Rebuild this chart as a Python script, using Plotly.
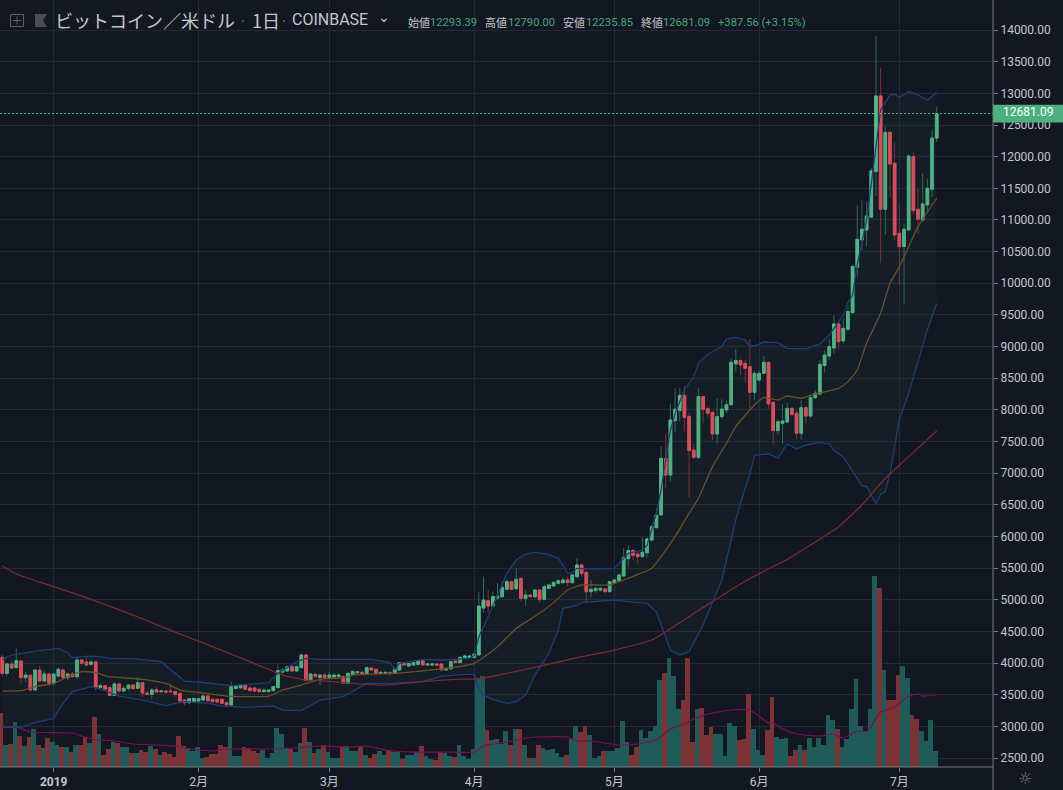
import pandas as pd
import plotly.graph_objects as go

# BTC/USD daily, Coinbase
first_day = "2018-12-21"
opens = [4090,3838,3985,3927,4032,3769,3806,3574,3890,3716,
    3827,3680,3795,3890,3769,3827,3785,4048,4017,3980,
    4017,3617,3643,3615,3490,3669,3559,3601,3653,3601,
    3690,3527,3506,3580,3548,3559,3559,3549,3521,3416,
    3374,3390,3400,3416,3479,3427,3427,3427,3374,3337,
    3600,3611,3648,3606,3606,3585,3548,3548,3564,3611,
    3858,3874,3943,3874,3927,4127,3722,3822,3774,3811,
    3774,3779,3785,3785,3679,3822,3845,3853,3822,3922,
    3901,3837,3837,3848,3837,3890,4001,3953,3969,3980,
    4037,3969,3969,3985,3985,3890,3906,4032,4006,4090,
    4090,4090,4127,4870,4985,4901,5029,5049,5165,5286,
    5175,5338,5022,5075,5049,5154,5007,5180,5217,5260,
    5270,5312,5270,5365,5549,5433,5128,5144,5154,5170,
    5128,5270,5302,5375,5649,5776,5723,5681,5744,5944,
    6139,6340,7234,6971,7830,7988,8230,7893,7366,7250,
    8209,8019,7961,7619,7893,8000,8082,8725,8778,8736,
    8683,8277,8472,8577,8751,8119,7672,7788,7809,8024,
    7946,7630,8035,7903,8193,8251,8700,8851,8978,9357,
    9089,9272,9536,10252,10684,10842,11043,11764,12959,11169,
    12385,11896,10790,10579,10842,12001,11169,11000,11237,11485,
    12293.39]
highs = [4130,4000,4040,4233,4040,3860,3830,3900,3960,3880,
    3850,3840,3925,3915,3850,3860,4100,4060,4117,4040,
    4040,3680,3650,3620,3700,3680,3640,3660,3660,3780,
    3700,3555,3605,3625,3580,3570,3670,3565,3530,3435,
    3450,3455,3450,3490,3490,3440,3435,3435,3390,3706,
    3655,3665,3665,3620,3615,3600,3600,3590,3635,3980,
    3925,3950,3955,3955,4153,4140,3845,3840,3830,3835,
    3860,3840,3835,3800,3850,3890,3880,3870,3940,3930,
    3910,3875,3865,3870,3915,4015,4015,4000,4030,4050,
    4045,3995,4000,3995,3995,3930,4025,4060,4110,4130,
    4125,4160,5128,5365,5155,5128,5259,5290,5310,5300,
    5496,5345,5154,5090,5170,5160,5230,5255,5290,5320,
    5340,5365,5400,5654,5570,5445,5312,5200,5200,5185,
    5300,5330,5420,5813,5865,5800,5760,5986,5986,6180,
    6444,7419,7630,8100,8340,8340,8380,7950,7470,8340,
    8220,8050,7980,8183,8167,8150,8814,8957,8800,8790,
    9115,8610,8620,8850,8760,8140,7850,8090,8110,8040,
    7990,8150,8060,8240,8310,8785,8940,9120,9499,9380,
    9440,9631,10300,11237,11316,11290,11817,13907,13407,12475,
    12400,12227,11237,10948,12040,12080,11485,11738,11648,12420,
    12790]
lows = [3790,3800,3915,3920,3680,3700,3560,3560,3700,3700,
    3640,3640,3770,3755,3730,3770,3745,3965,3950,3950,
    3570,3570,3570,3490,3490,3530,3540,3560,3590,3590,
    3470,3490,3440,3530,3530,3520,3540,3470,3380,3337,
    3360,3370,3385,3400,3395,3380,3375,3355,3330,3330,
    3585,3590,3575,3550,3545,3535,3540,3535,3555,3605,
    3840,3860,3860,3865,3915,3715,3720,3775,3650,3760,
    3760,3760,3770,3670,3670,3810,3830,3810,3815,3880,
    3830,3820,3820,3800,3830,3885,3960,3945,3960,3970,
    3960,3950,3955,3960,3890,3880,3900,4000,4000,4075,
    4075,4075,4120,4796,4790,4890,5000,5030,5150,5150,
    5150,4970,4907,5030,5020,4954,4995,5170,5205,5245,
    5255,5207,5250,5340,5365,4970,5038,5110,5130,5110,
    5115,5260,5290,5360,5512,5630,5576,5670,5670,5920,
    6125,6330,6760,6866,7650,7820,7660,6603,7220,7220,
    7788,7890,7524,7472,7860,7950,8060,8600,8550,8430,
    8025,8150,8440,8560,8020,7445,7600,7460,7790,7890,
    7535,7530,7780,7880,8170,8230,8590,8790,8890,8946,
    9050,9240,9520,10105,10526,10579,11030,11380,10316,10763,
    11343,10684,9973,9673,10842,11080,10779,10974,11116,11358,
    12235.85]
closes = [3838,3985,3922,4038,3769,3811,3574,3890,3716,3827,
    3680,3827,3901,3769,3827,3785,4048,3996,3969,4017,
    3617,3643,3590,3490,3669,3559,3601,3653,3595,3690,
    3527,3506,3574,3543,3558,3543,3549,3506,3400,3374,
    3437,3442,3437,3479,3405,3390,3385,3364,3337,3627,
    3637,3653,3585,3564,3558,3548,3574,3574,3627,3880,
    3890,3943,3874,3943,4127,3722,3827,3785,3811,3774,
    3811,3811,3811,3679,3837,3864,3864,3822,3927,3890,
    3837,3853,3853,3837,3906,4006,3969,3995,4006,4037,
    3969,3985,3985,3969,3890,3916,4022,4006,4090,4111,
    4111,4143,4901,4996,4901,5049,5059,5196,5286,5165,
    5323,5022,5075,5049,5154,5007,5207,5233,5275,5302,
    5312,5275,5391,5549,5417,5128,5165,5180,5180,5128,
    5286,5312,5391,5665,5776,5702,5681,5750,5960,6155,
    6339,7234,6971,7840,8009,8230,7882,7356,7250,8209,
    8009,7946,7619,7893,8014,8082,8751,8778,8709,8656,
    8277,8577,8577,8751,8093,7672,7814,7825,8024,7930,
    7630,8035,7903,8193,8262,8720,8867,9000,9357,9078,
    9288,9552,10263,10695,10853,11063,11775,12959,11169,12385,
    11885,10763,10579,10853,12011,11148,11011,11253,11500,12293,
    12681.09]
# volume, relative units
volumes = [54,22,23,45,31,21,30,38,22,19,
    29,25,22,20,20,15,22,22,30,24,
    50,33,12,18,25,24,20,20,14,14,
    17,15,21,18,12,15,13,10,31,21,
    19,16,20,9,10,13,13,22,20,40,
    11,11,20,19,16,14,17,9,14,39,
    33,19,18,15,24,39,25,14,18,22,
    15,9,9,20,21,16,16,21,12,9,
    13,16,12,17,15,15,8,12,12,15,
    21,11,8,7,15,14,11,10,22,11,
    8,18,89,91,37,27,28,23,36,22,
    38,38,22,9,9,22,19,17,18,14,
    10,12,28,41,35,41,32,9,11,16,
    16,16,19,46,25,12,20,37,29,36,
    41,87,94,109,91,58,67,109,25,58,
    59,32,40,33,33,11,44,41,27,28,
    73,38,17,12,37,70,30,28,29,11,
    17,22,17,29,20,29,22,52,47,38,
    20,28,58,88,41,36,58,191,179,97,
    67,67,92,101,89,52,48,36,26,47,
    16]

# indicator lines, sampled at the bends (day number from first_day)
bb_up_days = [0,2,7,11,12,14,15,17,20,23,28,34,37,39,42,49,57,59,63,65,68,72,75,79,83,84,85,90,94,97,100,101,102,104,106,108,110,112,114,117,119,120,121,122,123,126,131,132,134,137,138,140,141,143,144,146,148,149,151,154,155,157,159,160,161,163,166,168,172,175,177,180,181,182,183,185,187,188,190,191,192,194,196,198,200]
bb_up = [4059,4127,4190,4232,4232,4164,4085,4101,4111,4074,4069,4022,3837,3716,3701,3643,3690,3837,4022,4074,4059,4059,4048,4059,4006,3901,3995,4059,4048,4059,4074,4120,4417,4733,5075,5417,5628,5723,5749,5718,5654,5549,5417,5428,5496,5486,5496,5575,5733,5786,5860,6366,6734,7682,7945,8314,8525,8735,8878,9000,9120,9146,9104,9009,9009,9072,9062,8972,8962,9041,9183,9499,9700,9815,10300,11000,12200,12738,12975,12986,12938,13028,12975,12896,13012]
bb_lo_days = [0,4,7,11,13,15,17,19,21,25,30,35,39,44,47,52,58,60,64,68,73,75,78,83,90,94,99,101,102,103,105,108,110,112,114,117,119,120,123,124,131,134,138,140,143,145,147,150,154,157,158,160,161,164,166,168,170,172,175,177,178,180,182,184,185,187,188,189,190,191,192,194,198,200]
bb_lo = [2984,2984,3058,3127,3363,3548,3590,3627,3590,3479,3416,3327,3390,3364,3321,3300,3321,3258,3248,3416,3469,3548,3679,3680,3706,3790,3822,3822,3574,3495,3427,3364,3390,3495,3811,4154,4522,4865,4907,4954,4996,4970,4943,4806,4206,4127,4178,4600,5312,6260,6524,6987,7287,7303,7235,7461,7382,7445,7487,7461,7356,7261,7024,6798,6787,6513,6666,6708,6998,7393,7840,8262,9263,9680]
bb_mid_days = [0,4,7,11,14,17,20,23,30,35,38,42,48,57,60,64,68,74,75,84,95,101,106,110,113,116,119,121,124,130,133,139,141,144,147,149,152,155,157,161,163,166,168,171,174,179,181,183,185,188,190,192,194,196,200]
bb_mid = [3558,3564,3627,3679,3785,3864,3848,3785,3743,3679,3574,3537,3479,3479,3574,3653,3740,3774,3811,3837,3916,3996,4259,4548,4691,4838,5022,5154,5233,5233,5312,5497,5681,5997,6366,6603,7103,7472,7735,8077,8193,8156,8219,8183,8251,8340,8446,8630,9052,9526,9999,10263,10579,10895,11343]
sma200_days = [0,3,11,19,28,35,42,53,60,65,68,75,82,90,97,102,108,114,124,131,139,149,158,163,168,173,179,184,189,194,200]
sma200 = [5533,5407,5207,5007,4759,4548,4345,4022,3811,3732,3722,3679,3653,3706,3743,3750,3838,3932,4101,4206,4364,4830,5250,5450,5639,5866,6155,6497,6919,7261,7665]
vol_ma_days = [0,3,6,15,17,19,24,28,37,40,45,48,57,62,68,74,78,82,88,95,101,103,105,109,112,114,121,123,126,132,136,140,143,146,148,151,156,160,164,165,167,170,175,178,180,183,185,188,191,194,196,197,200]
vol_ma = [41,40,35,34,31,28,26,23,21,18,16,18,18,19,21,20,21,17,15,15,15,21,23,26,29,30,30,26,26,22,23,27,38,43,48,53,57,57,44,44,38,33,31,33,29,36,35,55,60,71,73,71,72]

month_ticks = ["2019-01-01", "2019-02-01", "2019-03-01", "2019-04-01", "2019-05-01", "2019-06-01", "2019-07-01"]
month_labels = ["<b>2019</b>", "2月", "3月", "4月", "5月", "6月", "7月"]
price_ticks = list(range(2500, 14001, 500))

BG = "#131722"
GRID = "#252935"
AXIS = "#787b86"
TXT = "#c3c6ce"
UP = "#53b987"
DOWN = "#eb4d5c"
W, H = 1063, 790
PW, PH = 993, 767

dates = pd.date_range(first_day, periods=len(closes), freq="D")


def px(x):
    return x / PW


def py(y):
    return 1 - y / PH


def at(days):
    return [dates[d] for d in days]


fig = go.Figure()

vol_colors = ["#1f5b59" if c >= o else "#7c3335" for o, c in zip(opens, closes)]
# bars sit a little left of their candle in the original
fig.add_trace(go.Bar(x=dates, y=volumes, yaxis="y2", marker=dict(color=vol_colors, line_width=0),
                     width=86400000, offset=-67392000, hoverinfo="skip"))
fig.add_trace(go.Scatter(x=at(vol_ma_days), y=vol_ma, yaxis="y2", mode="lines",
                         line=dict(color="#7b1055", width=1.2, shape="spline", smoothing=0.5), hoverinfo="skip"))

fig.add_trace(go.Scatter(x=at(bb_up_days), y=bb_up, mode="lines",
                         line=dict(color="#1c3f78", width=1.3), hoverinfo="skip"))
fig.add_trace(go.Scatter(x=at(bb_lo_days), y=bb_lo, mode="lines", fill="tonexty",
                         fillcolor="rgba(40,90,90,0.10)",
                         line=dict(color="#1c3f78", width=1.3), hoverinfo="skip"))
fig.add_trace(go.Scatter(x=at(bb_mid_days), y=bb_mid, mode="lines",
                         line=dict(color="#6b5126", width=1.3, shape="spline", smoothing=0.5), hoverinfo="skip"))
fig.add_trace(go.Scatter(x=at(sma200_days), y=sma200, mode="lines",
                         line=dict(color="#7a2b2e", width=1.3, shape="spline", smoothing=0.5), hoverinfo="skip"))

# wicks first (dim), then bodies on top
fig.add_trace(go.Candlestick(x=dates, open=opens, high=highs, low=lows, close=closes,
                             increasing=dict(line=dict(color="#2f6d52", width=1), fillcolor=UP),
                             decreasing=dict(line=dict(color="#84303a", width=1), fillcolor=DOWN),
                             whiskerwidth=0, hoverinfo="skip"))
body_hi = [max(o, c) for o, c in zip(opens, closes)]
body_lo = [min(o, c) for o, c in zip(opens, closes)]
fig.add_trace(go.Candlestick(x=dates, open=opens, high=body_hi, low=body_lo, close=closes,
                             increasing=dict(line=dict(color=UP, width=1), fillcolor=UP),
                             decreasing=dict(line=dict(color=DOWN, width=1), fillcolor=DOWN),
                             whiskerwidth=0, hoverinfo="skip"))

shapes = [
    # last price line and tag
    dict(type="line", xref="paper", x0=0, x1=1, yref="y", y0=closes[-1], y1=closes[-1],
         line=dict(color=UP, width=1, dash="2px,2px")),
    dict(type="rect", xref="paper", x0=1, x1=W / PW, yref="y", y0=closes[-1] - 140, y1=closes[-1] + 140,
         fillcolor="#4cb07f", line_width=0),
    # axis borders
    dict(type="line", xref="paper", yref="paper", x0=1, x1=1, y0=py(H), y1=1, line=dict(color=AXIS, width=1)),
    dict(type="line", xref="paper", yref="paper", x0=0, x1=1, y0=0, y1=0, line=dict(color=AXIS, width=1)),
    # header icons
    dict(type="rect", xref="paper", yref="paper", x0=px(10.5), x1=px(23.5), y0=py(26.5), y1=py(14.5),
         line=dict(color="#5d606b", width=1)),
    dict(type="line", xref="paper", yref="paper", x0=px(13), x1=px(21), y0=py(20.5), y1=py(20.5),
         line=dict(color="#5d606b", width=1)),
    dict(type="line", xref="paper", yref="paper", x0=px(17), x1=px(17), y0=py(16.5), y1=py(24.5),
         line=dict(color="#5d606b", width=1)),
    dict(type="path", xref="paper", yref="paper", fillcolor="#4a4d57", line_width=0,
         path=f"M {px(35)} {py(14)} L {px(47)} {py(14)} L {px(43)} {py(20.5)} L {px(47)} {py(27)} L {px(35)} {py(27)} Z"),
]


def label(x, y, text, color=TXT, size=13, family="Noto Sans CJK JP", anchor="left"):
    return dict(xref="paper", yref="paper", x=px(x), y=py(y), text=text, showarrow=False,
                xanchor=anchor, yanchor="middle", align="left",
                font=dict(color=color, size=size, family=family))


NUM = "Roboto"
GREEN_TXT = "#3dab7b"
annotations = [
    label(53, 20, "ビットコイン／米ドル", size=18),
    label(243, 20, "·", color="#5d606b", size=14, anchor="center"),
    label(250, 20, "1日", size=18),
    label(284, 20, "·", color="#5d606b", size=14, anchor="center"),
    label(290, 20, "COINBASE", size=16, family="Roboto"),
    label(376, 17, "⌄", size=14, family="DejaVu Sans"),
    label(406, 22, "始値", size=11),
    label(428, 22, f"{opens[-1]:.2f}", color=GREEN_TXT, size=11.2, family=NUM),
    label(483, 22, "高値", size=11),
    label(506, 22, f"{highs[-1]:.2f}", color=GREEN_TXT, size=11.2, family=NUM),
    label(561, 22, "安値", size=11),
    label(584, 22, f"{lows[-1]:.2f}", color=GREEN_TXT, size=11.2, family=NUM),
    label(639, 22, "終値", size=11),
    label(661, 22, f"{closes[-1]:.2f}", color=GREEN_TXT, size=11.2, family=NUM),
    label(716, 22, "+387.56 (+3.15%)", color=GREEN_TXT, size=11.2, family=NUM),
    label(1028, 112, f"{closes[-1]:.2f}", color="#ffffff", size=12, family=NUM, anchor="center"),
    label(1025, 778, "☼", color=AXIS, size=16, family="DejaVu Sans", anchor="center"),
]

fig.update_layout(
    width=W, height=H,
    margin=dict(l=0, r=W - PW, t=0, b=H - PH),
    paper_bgcolor=BG, plot_bgcolor=BG,
    showlegend=False,
    bargap=0,
    boxgap=0.18,
    shapes=shapes,
    annotations=annotations,
    xaxis=dict(type="date", range=["2018-12-20 12:14", "2019-07-21 01:12"],
               tickmode="array", tickvals=month_ticks, ticktext=month_labels,
               gridcolor=GRID, gridwidth=1, showline=False, zeroline=False,
               ticks="outside", ticklen=4, tickcolor=AXIS,
               tickfont=dict(color=TXT, size=12, family="Roboto, Noto Sans CJK JP"),
               rangeslider=dict(visible=False), fixedrange=True),
    yaxis=dict(side="right", range=[2358, 14475], overlaying="y2",
               tickmode="array", tickvals=price_ticks, ticktext=[f"{p:.2f}" for p in price_ticks],
               gridcolor=GRID, gridwidth=1, showline=False, zeroline=False,
               ticks="outside", ticklen=4, tickcolor=AXIS,
               tickfont=dict(color=TXT, size=12, family="Roboto"), fixedrange=True),
    yaxis2=dict(range=[0, PH], visible=False, showgrid=False, fixedrange=True),
)

fig.write_html("out.html", config={"displayModeBar": False},
               post_script="document.body.style.margin='0';document.body.style.overflow='hidden';")
